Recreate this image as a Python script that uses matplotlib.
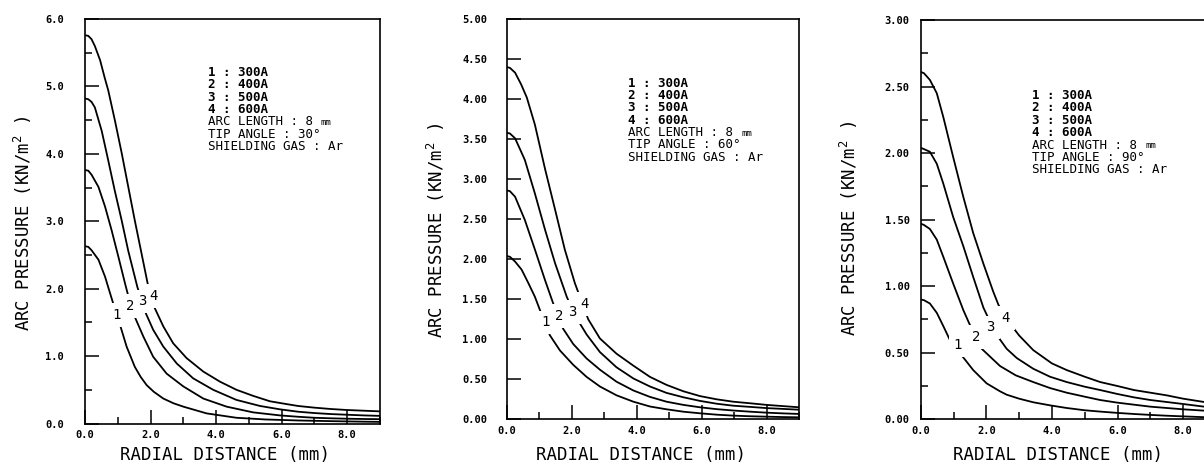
import matplotlib.pyplot as plt
from matplotlib.ticker import MultipleLocator, FormatStrFormatter

# plotter-like look: monospace everywhere
plt.rcParams['font.family'] = ['DejaVu Sans Mono', 'DejaVu Sans']
plt.rcParams['mathtext.fontset'] = 'custom'
plt.rcParams['mathtext.rm'] = 'DejaVu Sans Mono'
plt.rcParams['mathtext.it'] = 'DejaVu Sans Mono'
plt.rcParams['mathtext.bf'] = 'DejaVu Sans Mono:bold'

currents = ['300A', '400A', '500A', '600A']

# ---- tip angle 30 deg : radial distance (mm) / arc pressure (kN/m2)
r30_300 = [0.0, 0.1, 0.2, 0.41, 0.61, 0.81, 0.9, 1.07, 1.27, 1.52, 1.70, 1.88, 2.1, 2.39, 2.7, 3.0, 3.71, 4.62, 5.5, 6.5, 7.5, 8.5, 9.0]
p30_300 = [2.63, 2.62, 2.57, 2.43, 2.18, 1.86, 1.72, 1.46, 1.14, 0.84, 0.69, 0.57, 0.47, 0.37, 0.30, 0.25, 0.15, 0.085, 0.06, 0.045, 0.035, 0.027, 0.024]
r30_400 = [0.0, 0.1, 0.2, 0.41, 0.61, 0.81, 1.02, 1.22, 1.30, 1.52, 1.78, 2.08, 2.49, 3.0, 3.61, 4.32, 5.13, 5.95, 6.5, 7.0, 7.5, 8.0, 8.5, 9.0]
p30_400 = [3.76, 3.75, 3.69, 3.51, 3.22, 2.87, 2.47, 2.08, 1.93, 1.58, 1.29, 0.99, 0.74, 0.55, 0.37, 0.25, 0.165, 0.12, 0.10, 0.085, 0.077, 0.071, 0.067, 0.064]
r30_500 = [0.0, 0.1, 0.2, 0.3, 0.51, 0.71, 0.91, 1.12, 1.32, 1.60, 1.86, 2.08, 2.39, 2.80, 3.30, 3.91, 4.62, 5.34, 5.95, 6.5, 7.0, 7.5, 8.0, 8.5, 9.0]
p30_500 = [4.82, 4.81, 4.77, 4.69, 4.34, 3.90, 3.45, 3.01, 2.56, 2.02, 1.63, 1.39, 1.14, 0.89, 0.67, 0.50, 0.35, 0.26, 0.21, 0.175, 0.155, 0.14, 0.13, 0.12, 0.113]
r30_600 = [0.0, 0.1, 0.2, 0.3, 0.46, 0.6, 0.71, 0.91, 1.12, 1.32, 1.52, 1.73, 1.91, 2.13, 2.39, 2.69, 3.10, 3.61, 4.12, 4.62, 5.13, 5.64, 6.0, 6.5, 7.0, 7.5, 8.0, 8.5, 9.0]
p30_600 = [5.76, 5.75, 5.70, 5.60, 5.39, 5.13, 4.94, 4.50, 4.01, 3.51, 3.01, 2.51, 2.08, 1.71, 1.44, 1.19, 0.97, 0.77, 0.62, 0.50, 0.41, 0.33, 0.30, 0.26, 0.235, 0.215, 0.20, 0.19, 0.18]
lx30 = [0.95, 1.39, 1.76, 2.10]
ly30 = [1.61, 1.74, 1.81, 1.89]

# ---- tip angle 60 deg
r60_300 = [0.0, 0.1, 0.26, 0.46, 0.67, 0.87, 1.02, 1.33, 1.64, 2.05, 2.46, 2.87, 3.38, 3.90, 4.41, 4.92, 5.44, 5.95, 6.46, 6.97, 7.5, 8.0, 8.5, 9.0]
p60_300 = [2.04, 2.03, 1.97, 1.87, 1.70, 1.53, 1.37, 1.05, 0.86, 0.68, 0.53, 0.41, 0.30, 0.22, 0.16, 0.125, 0.095, 0.075, 0.058, 0.046, 0.038, 0.033, 0.028, 0.025]
r60_400 = [0.0, 0.1, 0.26, 0.56, 0.87, 1.18, 1.43, 1.74, 2.05, 2.46, 2.87, 3.38, 3.90, 4.41, 4.92, 5.44, 5.95, 6.46, 6.97, 7.5, 8.0, 8.5, 9.0]
p60_400 = [2.86, 2.85, 2.78, 2.49, 2.12, 1.74, 1.45, 1.13, 0.94, 0.76, 0.62, 0.47, 0.36, 0.28, 0.22, 0.18, 0.15, 0.127, 0.11, 0.095, 0.083, 0.074, 0.067]
r60_500 = [0.0, 0.1, 0.26, 0.56, 0.87, 1.18, 1.49, 1.85, 2.10, 2.46, 2.87, 3.38, 3.90, 4.41, 4.92, 5.44, 5.95, 6.46, 6.97, 7.5, 8.0, 8.5, 9.0]
p60_500 = [3.58, 3.57, 3.51, 3.24, 2.82, 2.37, 1.95, 1.53, 1.30, 1.06, 0.84, 0.65, 0.51, 0.41, 0.33, 0.275, 0.23, 0.195, 0.17, 0.155, 0.14, 0.13, 0.12]
r60_600 = [0.0, 0.1, 0.26, 0.45, 0.62, 0.87, 1.18, 1.49, 1.79, 2.10, 2.51, 2.87, 3.38, 3.90, 4.41, 4.92, 5.44, 5.95, 6.46, 6.97, 7.5, 8.0, 8.5, 9.0]
p60_600 = [4.40, 4.39, 4.33, 4.18, 4.02, 3.68, 3.13, 2.62, 2.12, 1.70, 1.25, 1.01, 0.82, 0.67, 0.53, 0.43, 0.35, 0.29, 0.25, 0.22, 0.20, 0.18, 0.165, 0.15]
lx60 = [1.20, 1.62, 2.03, 2.39]
ly60 = [1.21, 1.29, 1.34, 1.44]

# ---- tip angle 90 deg
r90_300 = [0.0, 0.1, 0.28, 0.49, 0.69, 0.94, 1.25, 1.60, 2.01, 2.42, 2.62, 3.0, 3.43, 3.94, 4.45, 5.0, 5.47, 6.0, 6.5, 7.0, 7.5, 8.0, 8.64, 9.0]
p90_300 = [0.90, 0.895, 0.87, 0.80, 0.70, 0.57, 0.48, 0.37, 0.27, 0.21, 0.185, 0.155, 0.128, 0.105, 0.085, 0.068, 0.058, 0.048, 0.04, 0.033, 0.027, 0.022, 0.016, 0.014]
r90_400 = [0.0, 0.1, 0.28, 0.49, 0.69, 0.99, 1.30, 1.48, 1.86, 2.42, 2.9, 3.43, 3.94, 4.45, 5.0, 5.47, 6.0, 6.5, 7.0, 7.5, 8.0, 8.64, 9.0]
p90_400 = [1.47, 1.46, 1.43, 1.35, 1.22, 1.02, 0.82, 0.72, 0.53, 0.40, 0.33, 0.28, 0.235, 0.20, 0.17, 0.145, 0.125, 0.11, 0.095, 0.085, 0.075, 0.065, 0.06]
r90_500 = [0.0, 0.1, 0.28, 0.49, 0.69, 0.99, 1.30, 1.60, 1.91, 2.27, 2.62, 2.93, 3.43, 3.94, 4.45, 5.0, 5.47, 6.0, 6.5, 7.0, 7.5, 8.0, 8.64, 9.0]
p90_500 = [2.04, 2.03, 2.01, 1.92, 1.77, 1.52, 1.30, 1.07, 0.84, 0.65, 0.53, 0.46, 0.38, 0.32, 0.28, 0.245, 0.22, 0.19, 0.165, 0.145, 0.13, 0.115, 0.095, 0.09]
r90_600 = [0.0, 0.1, 0.28, 0.49, 0.69, 0.99, 1.30, 1.60, 1.91, 2.21, 2.37, 2.72, 3.0, 3.43, 4.0, 4.45, 5.0, 5.47, 6.0, 6.5, 7.0, 7.5, 8.0, 8.64, 9.0]
p90_600 = [2.61, 2.60, 2.55, 2.45, 2.27, 1.97, 1.67, 1.40, 1.17, 0.96, 0.86, 0.72, 0.63, 0.52, 0.42, 0.37, 0.32, 0.28, 0.25, 0.22, 0.20, 0.18, 0.155, 0.13, 0.12]
lx90 = [1.13, 1.68, 2.13, 2.59]
ly90 = [0.56, 0.62, 0.69, 0.76]

panels = [
    dict(angle='30', rect=[0.0706, 0.0912, 0.2450, 0.8680], ymax=6.0, ystep=1.0, yminor=0.5, fmt='%.1f',
         curves=[(r30_300, p30_300), (r30_400, p30_400), (r30_500, p30_500), (r30_600, p30_600)],
         lx=lx30, ly=ly30, ypad=15, note=(0.417, 0.884), ylab=(-0.21, 0.496), xlab=(0.475, -0.078)),
    dict(angle='60', rect=[0.4208, 0.1002, 0.2429, 0.8590], ymax=5.0, ystep=0.5, yminor=None, fmt='%.2f',
         curves=[(r60_300, p60_300), (r60_400, p60_400), (r60_500, p60_500), (r60_600, p60_600)],
         lx=lx60, ly=ly60, ypad=14, note=(0.416, 0.856), ylab=(-0.242, 0.473), xlab=(0.458, -0.089)),
    dict(angle='90', rect=[0.7647, 0.1002, 0.2452, 0.8569], ymax=3.0, ystep=0.5, yminor=0.25, fmt='%.2f',
         curves=[(r90_300, p90_300), (r90_400, p90_400), (r90_500, p90_500), (r90_600, p90_600)],
         lx=lx90, ly=ly90, ypad=8, note=(0.378, 0.827), ylab=(-0.243, 0.479), xlab=(0.466, -0.089)),
]

fig = plt.figure(figsize=(12.04, 4.66), dpi=100)

for pn in panels:
    ax = fig.add_axes(pn['rect'])
    for r, p in pn['curves']:
        ax.plot(r, p, color='black', lw=1.3, solid_joinstyle='round', solid_capstyle='round')

    # curve numbers sit in gaps of the lines: white patches first, digits on top
    for i, (x, y) in enumerate(zip(pn['lx'], pn['ly'])):
        ax.text(x, y, str(i + 1), fontsize=10, ha='center', va='center', zorder=3, color='white',
                bbox=dict(boxstyle='square,pad=0.35', fc='white', ec='none'))
    for i, (x, y) in enumerate(zip(pn['lx'], pn['ly'])):
        ax.text(x, y, str(i + 1), fontsize=10, ha='center', va='center', zorder=4)

    ax.set_xlim(0, 9)
    ax.set_ylim(0, pn['ymax'])
    ax.xaxis.set_major_locator(MultipleLocator(2))
    ax.xaxis.set_minor_locator(MultipleLocator(1))
    ax.xaxis.set_major_formatter(FormatStrFormatter('%.1f'))
    ax.yaxis.set_major_locator(MultipleLocator(pn['ystep']))
    if pn['yminor']:
        ax.yaxis.set_minor_locator(MultipleLocator(pn['yminor']))
    ax.yaxis.set_major_formatter(FormatStrFormatter(pn['fmt']))

    ax.tick_params(which='both', direction='in', top=False, right=False, width=1.1, color='black')
    ax.tick_params(which='major', length=10)
    ax.tick_params(which='minor', length=5)
    ax.tick_params(axis='x', which='major', pad=5, labelsize=7.5)
    ax.tick_params(axis='y', which='major', pad=pn['ypad'], labelsize=7.5)
    for lab in ax.get_xticklabels() + ax.get_yticklabels():
        lab.set_fontweight('bold')
    for s in ax.spines.values():
        s.set_linewidth(1.2)

    ax.set_xlabel('RADIAL DISTANCE (mm)', fontsize=12.5)
    ax.set_ylabel(r'ARC PRESSURE (KN/m$^{2}$ )', fontsize=12.5)
    ax.xaxis.set_label_coords(*pn['xlab'])
    ax.yaxis.set_label_coords(*pn['ylab'])
    ax.xaxis.label.set_va('center')
    ax.yaxis.label.set_va('center')

    # conditions block
    fx, fy = pn['note']
    lines = ['%d : %s' % (i + 1, c) for i, c in enumerate(currents)]
    lines += ['ARC LENGTH : 8', 'TIP ANGLE : %s°' % pn['angle'], 'SHIELDING GAS : Ar']
    step = 8.9
    for i, t in enumerate(lines):
        ax.annotate(t, xy=(fx, fy), xycoords='axes fraction', xytext=(0, -i * step),
                    textcoords='offset points', fontsize=9, va='top', ha='left',
                    fontweight='bold' if i < 4 else 'normal')
    # small "mm" after the arc length value
    ax.annotate('mm', xy=(fx, fy), xycoords='axes fraction',
                xytext=(15 * 0.602 * 9, -4 * step - 2.0), textcoords='offset points',
                fontsize=6.5, va='top', ha='left')

fig.savefig('out.png', dpi=100)
